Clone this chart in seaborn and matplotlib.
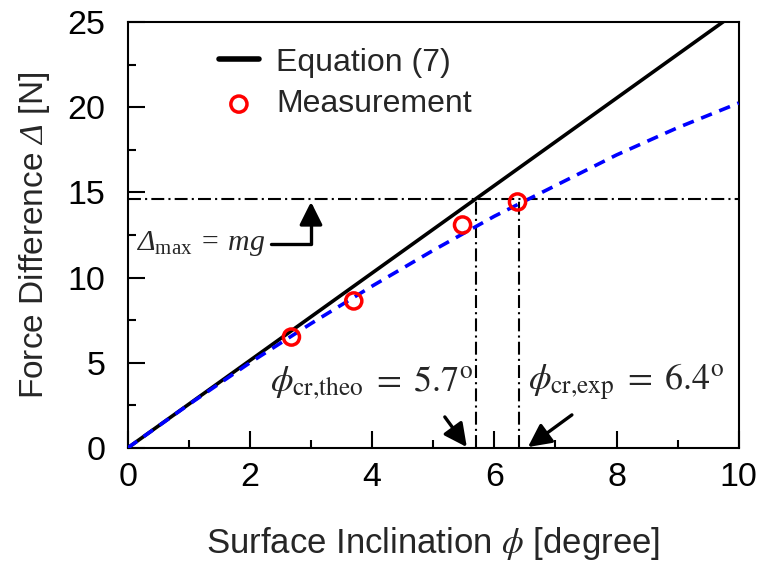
import matplotlib
matplotlib.use("Agg")
import matplotlib.pyplot as plt
from matplotlib.ticker import MultipleLocator
import pandas as pd
import seaborn as sns

# Equation (7): theoretical straight line
eq_phi = [0.0, 10.0]
eq_delta = [0.0, 25.67]

# Measured force differences
meas_phi = [2.68, 3.70, 5.48, 6.38]
meas_delta = [6.51, 8.63, 13.09, 14.44]

# Trend through the measurements (blue dashed)
trend_phi = [0, 1, 2, 3, 4, 5, 6, 7, 8, 9, 10]
trend_delta = [0, 2.55, 5.0, 7.3, 9.5, 11.6, 13.6, 15.4, 17.2, 18.8, 20.25]

# Limit force and critical inclinations
delta_max = 14.6
phi_cr_theo = 5.7
phi_cr_exp = 6.4

x_ticks = [0, 2, 4, 6, 8, 10]
y_ticks = [0, 5, 10, 15, 20, 25]

sns.set_style("ticks")
plt.rcParams["font.family"] = ["Liberation Sans", "DejaVu Sans"]
plt.rcParams["mathtext.fontset"] = "stix"
# serif-italic set used for the italic capital Delta
plt.rcParams["mathtext.rm"] = "Liberation Serif:italic"
plt.rcParams["mathtext.it"] = "Liberation Serif:italic"
plt.rcParams["mathtext.sf"] = "Liberation Serif"

fig = plt.figure(figsize=(7.6, 5.67), dpi=100)
ax = fig.add_axes([0.168, 0.21, 0.804, 0.751])

eq_df = pd.DataFrame({"phi": eq_phi, "delta": eq_delta})
meas_df = pd.DataFrame({"phi": meas_phi, "delta": meas_delta})
trend_df = pd.DataFrame({"phi": trend_phi, "delta": trend_delta})

dashdot = (0, (6.2, 2.0, 1.0, 2.0))

# reference lines for the limit force and critical angles
ax.axhline(delta_max, color="black", lw=1.5, linestyle=dashdot, zorder=1)
ax.plot([phi_cr_theo, phi_cr_theo], [0, delta_max], color="black", lw=1.5,
        linestyle=dashdot, zorder=1)
ax.plot([phi_cr_exp, phi_cr_exp], [0, delta_max], color="black", lw=1.5,
        linestyle=dashdot, zorder=1)

sns.lineplot(data=eq_df, x="phi", y="delta", color="black", lw=2.6,
             label="Equation (7)", ax=ax, zorder=3)
sns.lineplot(data=trend_df, x="phi", y="delta", color="#0000ff", lw=2.6,
             linestyle=(0, (3.2, 2.2)), ax=ax, zorder=4, legend=False)
sns.scatterplot(data=meas_df, x="phi", y="delta", marker="o", s=135,
                facecolor="none", edgecolor="#ff0000", linewidth=2.5,
                label="Measurement", ax=ax, zorder=5)

ax.set_xlim(0, 10)
ax.set_ylim(0, 25)
ax.set_xticks(x_ticks)
ax.set_yticks(y_ticks)
ax.xaxis.set_minor_locator(MultipleLocator(1))
ax.yaxis.set_minor_locator(MultipleLocator(2.5))
ax.tick_params(which="both", direction="in", width=1.5, labelsize=24.5,
               top=False, right=False, colors="black")
ax.tick_params(which="major", length=12)
ax.tick_params(axis="y", which="major", pad=16)
ax.tick_params(axis="x", which="major", pad=10)
ax.tick_params(which="minor", length=6)
for sp in ax.spines.values():
    sp.set_linewidth(1.5)
    sp.set_color("black")
    sp.set_visible(True)

ax.set_xlabel(r"Surface Inclination $\phi$ [degree]", fontsize=25,
              labelpad=23)
ax.set_ylabel(r"Force Difference $\Delta$ [N]", fontsize=24, labelpad=11,
              math_fontfamily="custom")

leg = ax.legend(loc="upper left", bbox_to_anchor=(0.118, 0.985),
                frameon=False, fontsize=23, handlelength=1.25,
                handletextpad=0.55, labelspacing=0.37, borderaxespad=0.2)
for h in leg.legend_handles:
    if h.get_label() == "Equation (7)":
        h.set_linewidth(4.0)

# annotation for the limit force
ax.text(2.25, 12.0, r"$\Delta_{\mathsf{max}}\,=\,mg$", fontsize=21.5,
        ha="right", va="center", math_fontfamily="custom")
ax.annotate("", xy=(3.0, 14.45), xytext=(2.34, 12.0),
            arrowprops=dict(arrowstyle="-|>,head_length=0.7,head_width=0.35",
                            connectionstyle="angle,angleA=0,angleB=90,rad=0",
                            color="black", lw=2.4, shrinkA=0, shrinkB=0,
                            mutation_scale=20))

# annotations for the critical inclinations
ax.text(phi_cr_theo - 0.05, 3.85,
        r"$\phi_{\mathrm{cr{,}theo}}\;=\;5.7^{\mathrm{o}}$",
        fontsize=26, ha="right", va="center")
ax.text(phi_cr_exp + 0.15, 3.85,
        r"$\phi_{\mathrm{cr{,}exp}}\;=\;6.4^{\mathrm{o}}$",
        fontsize=26, ha="left", va="center")
ax.annotate("", xy=(5.55, 0.05), xytext=(5.19, 1.82),
            arrowprops=dict(arrowstyle="-|>,head_length=0.7,head_width=0.35",
                            color="black", lw=2.4, shrinkA=0, shrinkB=0,
                            mutation_scale=20))
ax.annotate("", xy=(6.55, 0.05), xytext=(7.27, 1.94),
            arrowprops=dict(arrowstyle="-|>,head_length=0.7,head_width=0.35",
                            color="black", lw=2.4, shrinkA=0, shrinkB=0,
                            mutation_scale=20))

fig.savefig("out.png", dpi=100, facecolor="white")
